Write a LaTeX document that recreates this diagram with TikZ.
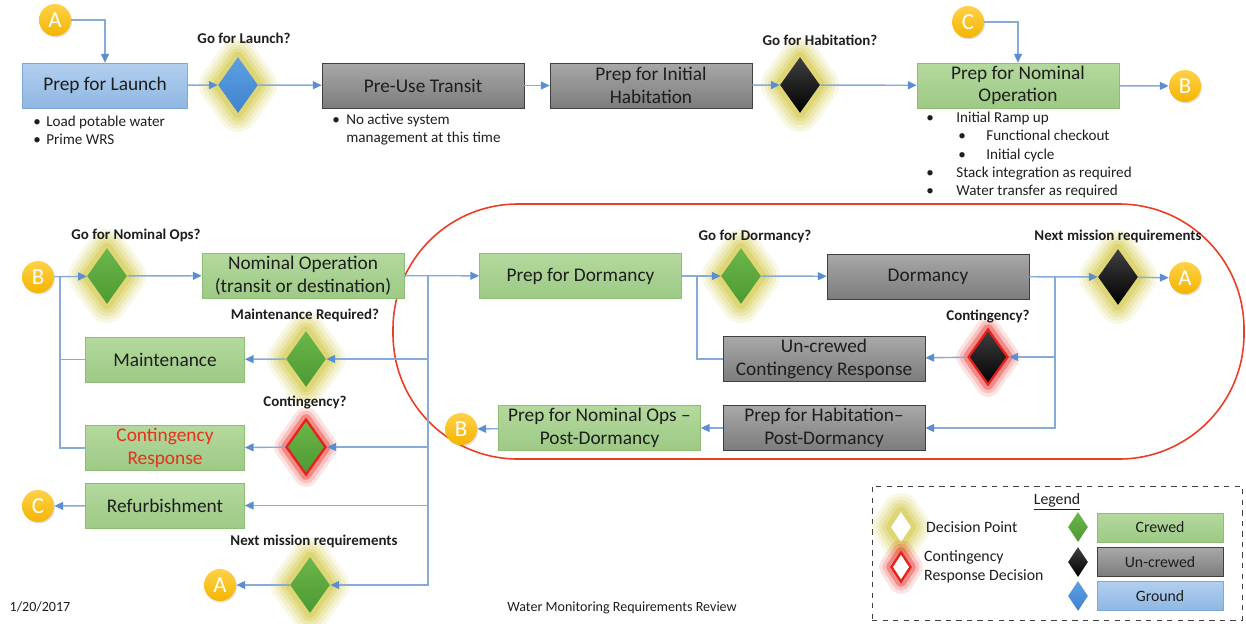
\documentclass[tikz,border=0pt]{standalone}
\usepackage{fontspec}
\setmainfont{Carlito}
\usetikzlibrary{shapes.geometric,arrows.meta,shadows}

\definecolor{connblue}{HTML}{86ABD9}
\definecolor{tipblue}{HTML}{5B8ED0}
\definecolor{textdark}{HTML}{1E1E1E}
\definecolor{crewedtop}{HTML}{B4D99D}
\definecolor{crewedbot}{HTML}{9DC985}
\definecolor{crewedline}{HTML}{8DBE74}
\definecolor{uncrewedtop}{HTML}{A8A8A8}
\definecolor{uncrewedbot}{HTML}{7C7C7C}
\definecolor{uncrewedline}{HTML}{404040}
\definecolor{groundtop}{HTML}{B2CFEF}
\definecolor{groundbot}{HTML}{8FB7E2}
\definecolor{groundline}{HTML}{7EA8D6}
\definecolor{dgreentop}{HTML}{6CB64B}
\definecolor{dgreenbot}{HTML}{4C9A32}
\definecolor{dbluetop}{HTML}{5E9FE2}
\definecolor{dbluebot}{HTML}{3F83CE}
\definecolor{glowy}{HTML}{D2C845}
\definecolor{glowred}{HTML}{E8201A}
\definecolor{respred}{HTML}{E8301C}
\definecolor{loopred}{HTML}{EE3B24}
\definecolor{coin}{HTML}{F5B400}
\definecolor{cointop}{HTML}{FFD24A}

\newcommand\boxfont{\fontsize{11}{12.8}\selectfont}
\newcommand\notefont{\fontsize{8.6}{10.3}\selectfont}
\newcommand\askfont{\fontsize{8.5}{10}\selectfont\bfseries}
\newcommand\legfont{\fontsize{9}{10.5}\selectfont}

\begin{document}
\begin{tikzpicture}[x=0.02cm,y=-0.02cm,
    conn/.style={draw=connblue,line width=0.8pt},
    arr/.style={conn,-{Triangle[length=5pt,width=4.5pt,color=tipblue]}},
    box/.style={rectangle,draw,minimum width=4.04cm,minimum height=0.9cm,align=center,inner sep=1pt,font=\boxfont,text=textdark},
    narrow/.style={minimum width=3.18cm},
    crewed/.style={box,draw=crewedline,top color=crewedtop,bottom color=crewedbot},
    uncrewed/.style={box,draw=uncrewedline,top color=uncrewedtop,bottom color=uncrewedbot},
    ground/.style={box,draw=groundline,top color=groundtop,bottom color=groundbot},
    glow/.style={preaction={draw=glowy,draw opacity=0.13,line width=22pt,line join=round},
                 preaction={draw=glowy,draw opacity=0.16,line width=18pt,line join=round},
                 preaction={draw=glowy,draw opacity=0.2,line width=14pt,line join=round},
                 preaction={draw=glowy,draw opacity=0.28,line width=10pt,line join=round},
                 preaction={draw=glowy,draw opacity=0.38,line width=6pt,line join=round}},
    redglow/.style={preaction={draw=glowred,draw opacity=0.12,line width=14pt,line join=round},
                    preaction={draw=glowred,draw opacity=0.18,line width=10pt,line join=round},
                    preaction={draw=glowred,draw opacity=0.35,line width=6pt,line join=round},
                    draw=glowred,line width=1.3pt},
    decision/.style={diamond,minimum width=0.8cm,minimum height=1.12cm,inner sep=0pt},
    dcrewed/.style={decision,top color=dgreentop,bottom color=dgreenbot},
    duncrewed/.style={decision,top color=black!75,bottom color=black},
    dground/.style={decision,top color=dbluetop,bottom color=dbluebot},
    ask/.style={font=\askfont,text=textdark},
    note/.style={font=\notefont,align=left,anchor=west,inner sep=0pt,text=textdark},
    offpage/.style={circle,minimum size=0.64cm,inner sep=0pt,top color=cointop,bottom color=coin,
                    text=white,font=\fontsize{13}{13}\selectfont,
                    drop shadow={opacity=0.25,shadow xshift=0.6pt,shadow yshift=-0.8pt}}]

\useasboundingbox (0,0) rectangle (1246,623);

\draw[loopred,line width=0.9pt,rounded corners=2.5cm] (393,204) rectangle (1244,459);

      \node[ground,minimum width=3.3cm] (launch) at (105,85.5) {Prep for Launch};
      \node[dground,glow] (dLaunch) at (238,85) {};
      \node[ask] (qLaunch) at (244,38) {Go for Launch?};
      \node[uncrewed] (transit) at (423,85.5) {Pre-Use Transit};
      \node[uncrewed] (habit) at (651,85.5) {Prep for Initial\\Habitation};
      \node[duncrewed,glow] (dHabit) at (800,85) {};
      \node[ask] (qHabit) at (820,40) {Go for Habitation?};
      \node[crewed] (nomprep) at (1018,85.5) {Prep for Nominal\\Operation};

      \node[offpage] (cA1) at (55,20) {A};
      \node[offpage] (cC1) at (968,22) {C};
      \node[offpage] (cB1) at (1185,86) {B};

      \node[note] (launchnote) at (33,130) {\makebox[0.26cm][l]{•}Load potable water\\\makebox[0.26cm][l]{•}Prime WRS};
      \node[note] (transitnote) at (332,130) {\makebox[0.28cm][l]{•}No active system\\\hspace*{0.28cm}management at this time};
      \node[note] (nomprepnote) at (926,155) {\makebox[0.6cm][l]{•}Initial Ramp up\\
        \hspace*{0.64cm}\makebox[0.56cm][l]{•}Functional checkout\\
        \hspace*{0.64cm}\makebox[0.56cm][l]{•}Initial cycle\\
        \makebox[0.6cm][l]{•}Stack integration as required\\
        \makebox[0.6cm][l]{•}Water transfer as required};

      \node[offpage] (cB2) at (38,277) {B};
      \node[dcrewed,glow] (dNom) at (107,276) {};
      \node[ask] (qNom) at (136,235) {Go for Nominal Ops?};
      \node[crewed] (nomop) at (303,275.5) {Nominal Operation\\(transit or destination)};
      \node[dcrewed,glow] (dMaint) at (306,359) {};
      \node[ask] (qMaint) at (305,315) {Maintenance Required?};
      \node[crewed,narrow] (maint) at (165,359.5) {Maintenance};
      \node[dcrewed,redglow] (dCont) at (306,447) {};
      \node[ask] (qCont) at (305,403) {Contingency?};
      \node[crewed,narrow,text=respred] (cresp) at (165,448) {Contingency\\Response};
      \node[crewed,narrow] (refurb) at (165,505.5) {Refurbishment};
      \node[offpage] (cC2) at (38,506) {C};
      \node[dcrewed,glow] (dNext) at (310,585) {};
      \node[ask] (qNext) at (314,541) {Next mission requirements};
      \node[offpage] (cA2) at (220,585) {A};

      \node[crewed] (prepdorm) at (580.5,276) {Prep for Dormancy};
      \node[dcrewed,glow] (dDorm) at (741,276) {};
      \node[ask] (qDorm) at (755,236) {Go for Dormancy?};
      \node[uncrewed] (dormancy) at (928,276.5) {Dormancy};
      \node[duncrewed,glow] (dNext2) at (1118,277) {};
      \node[ask] (qNext2) at (1118,236) {Next mission requirements};
      \node[offpage] (cA3) at (1185,278) {A};
      \node[duncrewed,redglow] (dCont2) at (988,357) {};
      \node[ask] (qCont2) at (988,317) {Contingency?};
      \node[uncrewed] (uncont) at (824,359) {Un-crewed\\Contingency Response};
      \node[uncrewed] (habpost) at (824,428) {Prep for Habitation--\\Post-Dormancy};
      \node[crewed] (nompost) at (599.5,428) {Prep for Nominal Ops --\\Post-Dormancy};
      \node[offpage] (cB3) at (461,429) {B};

      \coordinate (jB) at (60,277);
      \coordinate (jN) at (428,275.5);
      \coordinate (jD) at (697,276);
      \coordinate (jM) at (1055,276.5);

      \draw[arr] (cA1) -| (launch);
      \draw[arr] (launch) -- (dLaunch);
      \draw[arr] (dLaunch) -- (transit);
      \draw[arr] (transit) -- (habit);
      \draw[arr] (habit) -- (dHabit);
      \draw[arr] (dHabit) -- (nomprep);
      \draw[arr] (cC1) -| (nomprep);
      \draw[arr] (nomprep) -- (cB1);

      \draw[arr] (cB2) -- (dNom);
      \draw[arr] (dNom) -- (nomop);
      \draw[conn] (maint) -| (jB);
      \draw[conn] (cresp) -| (jB);
      \draw[arr] (nomop) -- (prepdorm);
      \draw[arr] (jN) |- (dMaint);
      \draw[arr] (jN) |- (dCont);
      \draw[arr] (jN) |- (refurb);
      \draw[arr] (jN) |- (dNext);
      \draw[arr] (dMaint) -- (maint);
      \draw[arr] (dCont) -- (cresp);
      \draw[arr] (refurb) -- (cC2);
      \draw[arr] (dNext) -- (cA2);

      \draw[arr] (prepdorm) -- (dDorm);
      \draw[conn] (uncont) -| (jD);
      \draw[arr] (dDorm) -- (dormancy);
      \draw[arr] (dormancy) -- (dNext2);
      \draw[arr] (dNext2) -- (cA3);
      \draw[arr] (jM) |- (dCont2);
      \draw[arr] (jM) |- (habpost);
      \draw[arr] (dCont2) -- (uncont);
      \draw[arr] (habpost) -- (nompost);
      \draw[arr] (nompost) -- (cB3);

      \node[draw=black!75,dashed,minimum width=7.4cm,minimum height=2.68cm] (legend) at (1057,553) {};
      \node[font=\legfont,text=textdark] (legtitle) at (1057,502) {\underline{Legend}};
      \node[diamond,minimum width=0.4cm,minimum height=0.6cm,inner sep=0pt,fill=white,glow] (lgDec) at (901,527) {};
      \node[diamond,minimum width=0.4cm,minimum height=0.6cm,inner sep=0pt,fill=white,redglow] (lgCont) at (901,567) {};
      \node[font=\legfont,text=textdark,anchor=west] (lgDecTxt) at (920,527) {Decision Point};
      \node[font=\legfont,text=textdark,anchor=west,align=left] (lgContTxt) at (918,567) {Contingency\\Response Decision};
      \node[dcrewed,minimum width=0.4cm,minimum height=0.6cm] (lgG) at (1078,527) {};
      \node[duncrewed,minimum width=0.4cm,minimum height=0.6cm] (lgK) at (1078,562) {};
      \node[dground,minimum width=0.4cm,minimum height=0.6cm] (lgB) at (1078,596) {};
      \node[crewed,minimum width=2.52cm,minimum height=0.58cm,font=\legfont] (lgCrew) at (1160,527.5) {Crewed};
      \node[uncrewed,minimum width=2.52cm,minimum height=0.58cm,font=\legfont] (lgUncrew) at (1160,562) {Un-crewed};
      \node[ground,minimum width=2.52cm,minimum height=0.58cm,font=\legfont] (lgGround) at (1160,596) {Ground};

      \node[font=\fontsize{8}{9}\selectfont,text=textdark] (date) at (40,607) {1/20/2017};
      \node[font=\fontsize{8}{9}\selectfont,text=textdark] (title) at (622,608) {Water Monitoring Requirements Review};
\end{tikzpicture}
\end{document}
